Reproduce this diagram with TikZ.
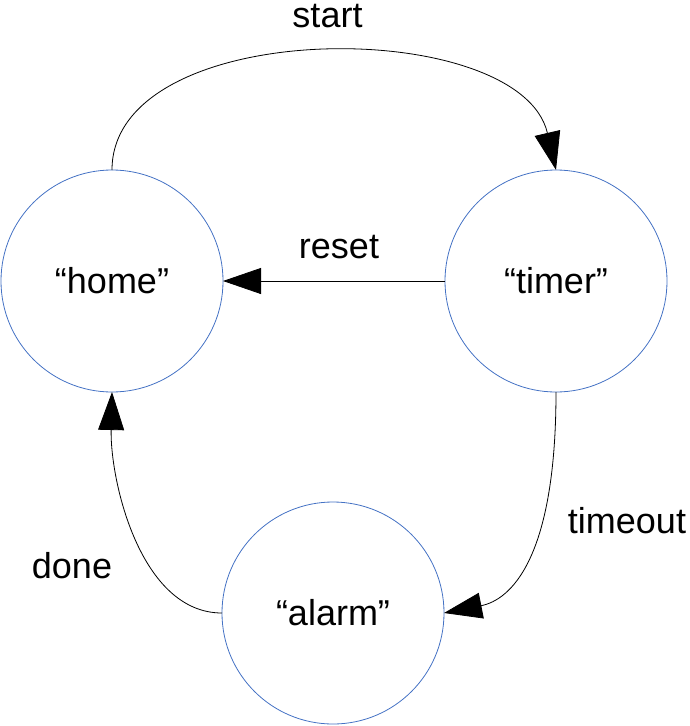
\documentclass[tikz,border=0pt]{standalone}
\usepackage{fontspec}
\setmainfont{Liberation Sans}
\usetikzlibrary{arrows.meta}
\definecolor{stateblue}{RGB}{68,114,196}
\begin{document}
\begin{tikzpicture}[x=1pt,y=-1pt,
  state/.style={circle,draw=stateblue,line width=0.8pt,minimum size=222pt,inner sep=0pt,outer sep=0pt,font=\fontsize{36}{43}\selectfont},
  lbl/.style={anchor=base,inner sep=0pt,font=\fontsize{36}{43}\selectfont},
  conn/.style={draw=black,line width=0.8pt,-{Triangle[length=38pt,width=26pt]}}]
\useasboundingbox (0,0) rectangle (689,726);
\node[state] (home) at (112,281) {“home”};
\node[state] (timer) at (556,281) {“timer”};
\node[state] (alarm) at (333,613) {“alarm”};
\draw[conn] (home.north) .. controls (112,15) and (520,15) .. (timer.north);
\draw[conn] (timer.west) -- (home.east);
\draw[conn] (timer.south) .. controls (556,560) and (510,600) .. (alarm.east);
\draw[conn] (alarm.west) .. controls (140,613) and (110,480) .. (home.south);
\node[lbl] (lstart) at (327.5,27) {start};
\node[lbl] (lreset) at (339,258) {reset};
\node[lbl] (ltimeout) at (627,533) {timeout};
\node[lbl] (ldone) at (72,578) {done};
\end{tikzpicture}
\end{document}
